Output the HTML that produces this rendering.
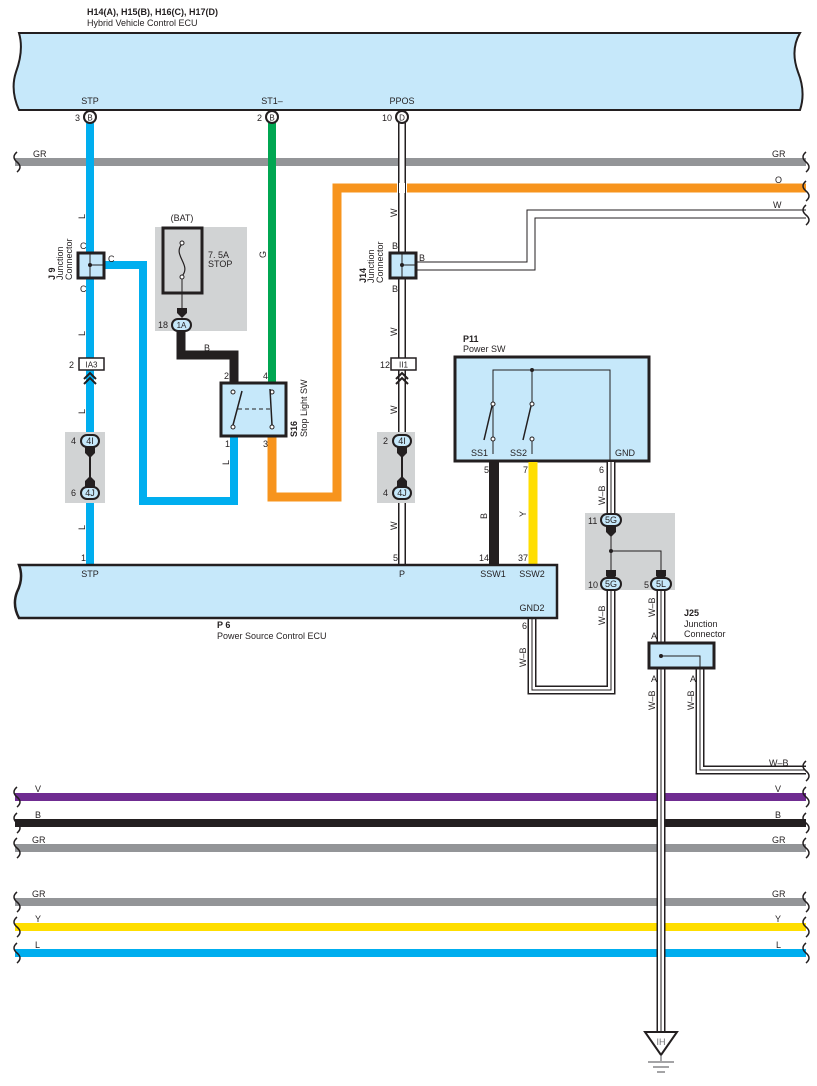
<!DOCTYPE html>
<html><head><meta charset="utf-8"><style>
html,body{margin:0;padding:0;background:#fff}
svg{display:block}
text{font-family:"Liberation Sans",sans-serif;font-size:9px;fill:#231f20}
.b{font-weight:bold}
</style></head><body>
<svg width="817" height="1086" viewBox="0 0 817 1086" xmlns="http://www.w3.org/2000/svg">
<defs>
<g id="chev"><path d="M-6,6 L0,0 L6,6 M-6,11 L0,5 L6,11" fill="none" stroke="#231f20" stroke-width="2"/></g>
</defs>
<!-- top ECU -->
<text x="87" y="15" class="b">H14(A), H15(B), H16(C), H17(D)</text>
<text x="87" y="26">Hybrid Vehicle Control ECU</text>
<path d="M19,33 L800,33 Q790,50 798,72 Q806,92 800,110 L19,110 Q10,90 16,72 Q24,50 19,33 Z" fill="#c6e8fa" stroke="#231f20" stroke-width="2"/>
<text x="90" y="104" text-anchor="middle">STP</text>
<text x="272" y="104" text-anchor="middle">ST1–</text>
<text x="402" y="104" text-anchor="middle">PPOS</text>

<!-- GR top wire -->
<line x1="15" y1="162" x2="806" y2="162" stroke="#939598" stroke-width="8"/>
<path d="M17,152 q-6,5 0,10 q6,5 0,10" fill="none" stroke="#231f20" stroke-width="1.5"/>
<path d="M806,152 q-6,5 0,10 q6,5 0,10" fill="none" stroke="#231f20" stroke-width="1.5"/>
<text x="33" y="157">GR</text><text x="772" y="157">GR</text>

<!-- orange -->
<path d="M806,188 L337,188 L337,497 L272,497 L272,437" fill="none" stroke="#f7941d" stroke-width="9"/>
<text x="775" y="183">O</text>
<path d="M806,181 q-6,5 0,10 q6,5 0,10" fill="none" stroke="#231f20" stroke-width="1.5"/>

<!-- W from right -->
<path d="M806,214 L531,214 L531,266 L416,266" fill="none" stroke="#231f20" stroke-width="9"/>
<path d="M806,214 L531,214 L531,266 L416,266" fill="none" stroke="#fff" stroke-width="7"/>
<text x="773" y="208">W</text>
<path d="M806,205 q-6,5 0,10 q6,5 0,10" fill="none" stroke="#231f20" stroke-width="1.5"/>

<!-- blue L -->
<line x1="90" y1="123" x2="90" y2="565" stroke="#00aeef" stroke-width="8"/>
<path d="M104,265 L143,265 L143,501 L234,501 L234,437" fill="none" stroke="#00aeef" stroke-width="8"/>
<!-- green -->
<line x1="272" y1="123" x2="272" y2="383" stroke="#00a651" stroke-width="8"/>
<!-- black B from fuse -->
<path d="M181,331 L181,355 L234,355 L234,383" fill="none" stroke="#231f20" stroke-width="9"/>

<!-- W PPOS -->
<line x1="402" y1="123" x2="402" y2="565" stroke="#231f20" stroke-width="8"/>
<line x1="402" y1="123" x2="402" y2="565" stroke="#fff" stroke-width="5"/>
<rect x="380" y="183" width="45" height="0" />
<line x1="397" y1="188" x2="407" y2="188" stroke="#fff" stroke-width="10"/>
<line x1="398.5" y1="183" x2="398.5" y2="193" stroke="#231f20" stroke-width="1"/>
<line x1="405.5" y1="183" x2="405.5" y2="193" stroke="#231f20" stroke-width="1"/>

<!-- pin circles top -->
<g fill="#fff" stroke="#231f20" stroke-width="2">
<circle cx="90" cy="117" r="6"/><circle cx="272" cy="117" r="6"/><circle cx="402" cy="117" r="6"/>
</g>
<text x="90" y="120.5" text-anchor="middle" style="font-size:8px">B</text>
<text x="272" y="120.5" text-anchor="middle" style="font-size:8px">B</text>
<text x="402" y="120.5" text-anchor="middle" style="font-size:8px">D</text>
<text x="75" y="121">3</text><text x="257" y="121">2</text><text x="382" y="121">10</text>

<!-- J9 -->
<rect x="78" y="253" width="26" height="25" fill="#c6e8fa" stroke="#231f20" stroke-width="3"/>
<path d="M90,253 V278 M90,265 H104" stroke="#231f20" stroke-width="1"/>
<circle cx="90" cy="265" r="2" fill="#231f20"/>
<text x="80" y="249">C</text><text x="80" y="292">C</text><text x="108" y="262">C</text>
<text transform="translate(55,280) rotate(-90)" class="b">J 9</text>
<text transform="translate(63,280) rotate(-90)">Junction</text>
<text transform="translate(72,280) rotate(-90)">Connector</text>
<text transform="translate(85,219) rotate(-90)">L</text>
<text transform="translate(85,336) rotate(-90)">L</text>
<text transform="translate(85,414) rotate(-90)">L</text>
<text transform="translate(85,530) rotate(-90)">L</text>

<!-- IA3 -->
<rect x="79" y="358" width="25" height="12" fill="#fff" stroke="#231f20" stroke-width="1.5"/>
<text x="91.5" y="367.5" text-anchor="middle" style="font-size:8px">IA3</text>
<text x="69" y="368">2</text>
<use href="#chev" x="90" y="373"/>
<rect x="377" y="0" width="0" height="0"/>
<rect x="391" y="358" width="25" height="12" fill="#fff" stroke="#231f20" stroke-width="1.5"/>
<text x="403.5" y="367.5" text-anchor="middle" style="font-size:8px">II1</text>
<text x="380" y="368">12</text>
<use href="#chev" x="402" y="373"/>

<!-- gray boxes 4I/4J -->
<rect x="65" y="432" width="40" height="71" fill="#d1d3d4"/>
<rect x="377" y="432" width="38" height="71" fill="#d1d3d4"/>
<line x1="90" y1="447" x2="90" y2="487" stroke="#231f20" stroke-width="2"/>
<line x1="402" y1="447" x2="402" y2="487" stroke="#231f20" stroke-width="2"/>
<g fill="#231f20">
<path d="M85,447 L95,447 L95,453 L90,458 L85,453Z"/><path d="M85,487 L95,487 L95,481 L90,476 L85,481Z"/>
<path d="M397,447 L407,447 L407,453 L402,458 L397,453Z"/><path d="M397,487 L407,487 L407,481 L402,476 L397,481Z"/>
</g>
<g fill="#c6e8fa" stroke="#231f20" stroke-width="2">
<rect x="81" y="435" width="18" height="12" rx="6"/><rect x="81" y="487" width="18" height="12" rx="6"/>
<rect x="393" y="435" width="18" height="12" rx="6"/><rect x="393" y="487" width="18" height="12" rx="6"/>
</g>
<g style="font-size:8px" text-anchor="middle">
<text x="90" y="444">4I</text><text x="90" y="496">4J</text>
<text x="402" y="444">4I</text><text x="402" y="496">4J</text>
</g>
<text x="71" y="444">4</text><text x="71" y="496">6</text>
<text x="383" y="444">2</text><text x="383" y="496">4</text>

<!-- fuse -->
<rect x="155" y="227" width="92" height="104" fill="#d1d3d4"/>
<text x="182" y="221" text-anchor="middle">(BAT)</text>
<rect x="163" y="228" width="39" height="65" fill="none" stroke="#231f20" stroke-width="3"/>
<path d="M182,244 C172,255 192,265 182,276" fill="none" stroke="#231f20" stroke-width="1.2"/>
<circle cx="182" cy="243" r="2" fill="#fff" stroke="#231f20"/><circle cx="182" cy="277" r="2" fill="#fff" stroke="#231f20"/>
<line x1="182" y1="279" x2="182" y2="312" stroke="#231f20" stroke-width="1"/>
<path d="M177,308 L187,308 L187,313 L182,318 L177,313Z" fill="#231f20"/>
<text x="208" y="258">7. 5A</text><text x="208" y="267">STOP</text>
<rect x="172" y="319" width="19" height="12" rx="6" fill="#c6e8fa" stroke="#231f20" stroke-width="2"/>
<text x="181.5" y="328" text-anchor="middle" style="font-size:8px">1A</text>
<text x="158" y="328">18</text>
<text x="204" y="351">B</text>
<text transform="translate(266,258) rotate(-90)">G</text>

<!-- S16 -->
<rect x="221" y="383" width="65" height="53" fill="#c6e8fa" stroke="#231f20" stroke-width="3"/>
<circle cx="233" cy="392" r="2" fill="#fff" stroke="#231f20"/><circle cx="233" cy="427" r="2" fill="#fff" stroke="#231f20"/>
<circle cx="272" cy="392" r="2" fill="#fff" stroke="#231f20"/><circle cx="272" cy="427" r="2" fill="#fff" stroke="#231f20"/>
<path d="M233,425 L242,391 M272,425 L270,389" stroke="#231f20" stroke-width="1.5"/>
<path d="M238,409 H270" stroke="#231f20" stroke-dasharray="4,3"/>
<text x="224" y="379">2</text><text x="263" y="379">4</text><text x="225" y="447">1</text><text x="263" y="447">3</text>
<text transform="translate(229,465) rotate(-90)">L</text>
<text transform="translate(297,437) rotate(-90)" class="b">S16</text>
<text transform="translate(307,437) rotate(-90)">Stop Light SW</text>

<!-- J14 -->
<rect x="390" y="253" width="26" height="25" fill="#c6e8fa" stroke="#231f20" stroke-width="3"/>
<path d="M402,253 V278 M402,265 H416" stroke="#231f20" stroke-width="1"/>
<circle cx="402" cy="265" r="2" fill="#231f20"/>
<text x="392" y="249">B</text><text x="392" y="292">B</text><text x="419" y="261">B</text>
<text transform="translate(366,283) rotate(-90)" class="b">J14</text>
<text transform="translate(374,283) rotate(-90)">Junction</text>
<text transform="translate(383,283) rotate(-90)">Connector</text>
<text transform="translate(397,217) rotate(-90)">W</text>
<text transform="translate(397,336) rotate(-90)">W</text>
<text transform="translate(397,414) rotate(-90)">W</text>
<text transform="translate(397,530) rotate(-90)">W</text>

<!-- P11 -->
<text x="463" y="342" class="b">P11</text><text x="463" y="352">Power SW</text>
<rect x="455" y="357" width="194" height="104" fill="#c6e8fa" stroke="#231f20" stroke-width="3"/>
<path d="M493,454 V370 H610 V461 M532,370 V404 M532,437 V454 M493,437 V454" fill="none" stroke="#231f20" stroke-width="1"/>
<circle cx="532" cy="370" r="2" fill="#231f20"/>
<g fill="#fff" stroke="#231f20"><circle cx="493" cy="404" r="2"/><circle cx="493" cy="439" r="2"/><circle cx="532" cy="404" r="2"/><circle cx="532" cy="439" r="2"/></g>
<path d="M484,440 L492,406 M523,440 L531,406" stroke="#231f20" stroke-width="1.5"/>
<text x="471" y="456">SS1</text><text x="510" y="456">SS2</text><text x="615" y="456">GND</text>
<line x1="494" y1="462" x2="494" y2="565" stroke="#231f20" stroke-width="10"/>
<line x1="533" y1="462" x2="533" y2="565" stroke="#ffde00" stroke-width="9"/>
<text x="484" y="473">5</text><text x="523" y="473">7</text><text x="479" y="561">14</text><text x="518" y="561">37</text>
<text transform="translate(487,519) rotate(-90)">B</text>
<text transform="translate(526,517) rotate(-90)">Y</text>

<!-- W-B wires -->
<g fill="none">
<path d="M611,462 V513 M532,618 V690 H611 V590 M661,590 V1035 M700,668 V770 H806" stroke="#231f20" stroke-width="9"/>
<path d="M611,462 V513 M532,618 V690 H611 V590 M661,590 V1035 M700,668 V770 H806" stroke="#fff" stroke-width="6"/>
<path d="M611,462 V513 M532,618 V690 H611 V590 M661,590 V1035 M700,668 V770 H806" stroke="#231f20" stroke-width="1"/>
</g>
<text x="599" y="473">6</text>
<text transform="translate(605,505) rotate(-90)">W–B</text>
<text transform="translate(605,625) rotate(-90)">W–B</text>
<text transform="translate(526,667) rotate(-90)">W–B</text>
<text transform="translate(655,617) rotate(-90)">W–B</text>
<text transform="translate(655,710) rotate(-90)">W–B</text>
<text transform="translate(694,710) rotate(-90)">W–B</text>
<text x="769" y="766">W–B</text>
<path d="M806,761 q-6,5 0,10 q6,5 0,10" fill="none" stroke="#231f20" stroke-width="1.5"/>

<!-- gray box 5G/5L -->
<rect x="585" y="513" width="90" height="77" fill="#d1d3d4"/>
<path d="M611,526 V578 M611,551 H661 V578" fill="none" stroke="#231f20" stroke-width="1"/>
<circle cx="611" cy="551" r="2" fill="#231f20"/>
<g fill="#231f20">
<path d="M606,526 L616,526 L616,532 L611,537 L606,532Z"/>
<path d="M606,570 L616,570 L616,576 L611,581 L606,576Z"/>
<path d="M656,570 L666,570 L666,576 L661,581 L656,576Z"/>
</g>
<g fill="#c6e8fa" stroke="#231f20" stroke-width="2">
<rect x="601" y="514" width="20" height="12" rx="6"/><rect x="601" y="578" width="20" height="12" rx="6"/><rect x="651" y="578" width="20" height="12" rx="6"/>
</g>
<g style="font-size:8px" text-anchor="middle"><text x="611" y="523">5G</text><text x="611" y="587">5G</text><text x="661" y="587">5L</text></g>
<text x="588" y="524">11</text><text x="588" y="588">10</text><text x="644" y="588">5</text>

<!-- P6 ECU -->
<path d="M19,565 L557,565 L557,618 L19,618 Q12,605 17,592 Q24,578 19,565Z" fill="#c6e8fa" stroke="#231f20" stroke-width="2.5"/>
<text x="90" y="577" text-anchor="middle">STP</text><text x="402" y="577" text-anchor="middle">P</text>
<text x="493" y="577" text-anchor="middle">SSW1</text><text x="532" y="577" text-anchor="middle">SSW2</text>
<text x="532" y="611" text-anchor="middle">GND2</text>
<text x="81" y="561">1</text><text x="393" y="561">5</text><text x="522" y="629">6</text>
<text x="217" y="628" class="b">P 6</text><text x="217" y="639">Power Source Control ECU</text>

<!-- J25 -->
<text x="684" y="616" class="b">J25</text><text x="684" y="627">Junction</text><text x="684" y="637">Connector</text>
<rect x="649" y="643" width="65" height="25" fill="#c6e8fa" stroke="#231f20" stroke-width="3"/>
<path d="M661,656 H700 V668" fill="none" stroke="#231f20" stroke-width="1"/>
<circle cx="661" cy="656" r="2" fill="#231f20"/>
<text x="651" y="639">A</text><text x="651" y="682">A</text><text x="690" y="682">A</text>

<!-- ground -->
<path d="M645,1032 L677,1032 L661,1055Z" fill="#fff" stroke="#231f20" stroke-width="2"/>
<text x="661" y="1045" text-anchor="middle" style="fill:#6d6e71">IH</text>
<path d="M661,1055 V1061 M648,1062 H674 M653,1067 H669 M657,1072 H665" stroke="#6d6e71" stroke-width="1.2"/>

<!-- bottom buses -->
<g stroke-width="8">
<line x1="15" y1="797" x2="806" y2="797" stroke="#6f2c91"/>
<line x1="15" y1="823" x2="806" y2="823" stroke="#231f20"/>
<line x1="15" y1="848" x2="806" y2="848" stroke="#939598"/>
<line x1="15" y1="902" x2="806" y2="902" stroke="#939598"/>
<line x1="15" y1="927" x2="806" y2="927" stroke="#ffde00"/>
<line x1="15" y1="953" x2="806" y2="953" stroke="#00aeef"/>
</g>
<line x1="661" y1="792" x2="661" y2="960" stroke="#231f20" stroke-width="9"/>
<line x1="661" y1="792" x2="661" y2="960" stroke="#fff" stroke-width="6"/>
<line x1="661" y1="792" x2="661" y2="960" stroke="#231f20" stroke-width="1"/>
<g fill="none" stroke="#231f20" stroke-width="1.5">
<path d="M17,787 q-6,5 0,10 q6,5 0,10 M806,787 q-6,5 0,10 q6,5 0,10"/>
<path d="M17,813 q-6,5 0,10 q6,5 0,10 M806,813 q-6,5 0,10 q6,5 0,10"/>
<path d="M17,838 q-6,5 0,10 q6,5 0,10 M806,838 q-6,5 0,10 q6,5 0,10"/>
<path d="M17,892 q-6,5 0,10 q6,5 0,10 M806,892 q-6,5 0,10 q6,5 0,10"/>
<path d="M17,917 q-6,5 0,10 q6,5 0,10 M806,917 q-6,5 0,10 q6,5 0,10"/>
<path d="M17,943 q-6,5 0,10 q6,5 0,10 M806,943 q-6,5 0,10 q6,5 0,10"/>
</g>
<text x="35" y="792">V</text><text x="775" y="792">V</text>
<text x="35" y="818">B</text><text x="775" y="818">B</text>
<text x="32" y="843">GR</text><text x="772" y="843">GR</text>
<text x="32" y="897">GR</text><text x="772" y="897">GR</text>
<text x="35" y="922">Y</text><text x="775" y="922">Y</text>
<text x="35" y="948">L</text><text x="776" y="948">L</text>
</svg>
</body></html>
